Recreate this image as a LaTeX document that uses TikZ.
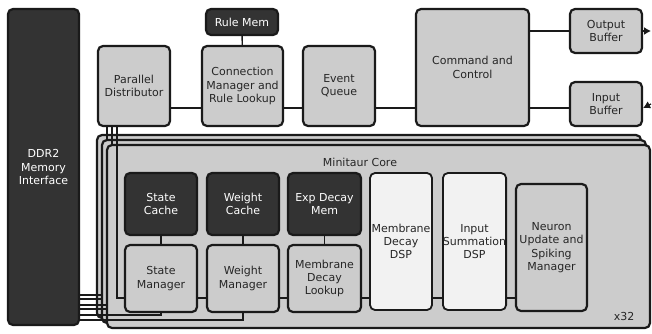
\documentclass[tikz,border=0pt]{standalone}
\usepackage{fontspec}
\setmainfont{DejaVu Sans}
\usepackage{xcolor}
\usepackage{tikz}
\usetikzlibrary{arrows.meta}
\definecolor{boxgray}{HTML}{CCCCCC}
\definecolor{memdark}{HTML}{333333}
\definecolor{dspwhite}{HTML}{F2F2F2}
\definecolor{edge}{HTML}{1A1A1A}

\begin{document}
\begin{tikzpicture}[x=1pt,y=-1pt,
  blk/.style={draw=edge,line width=2.2pt,rounded corners=5pt,fill=boxgray,text=black!85,
    align=center,inner sep=0pt,font=\fontsize{11}{13.3}\selectfont},
  memblk/.style={blk,fill=memdark,text=white},
  dspblk/.style={blk,fill=dspwhite,line width=1.8pt},
  frame/.style={draw=edge,line width=2.2pt,rounded corners=5pt,fill=boxgray},
  wire/.style={draw=edge,line width=1.3pt},
  tip/.style={-{Latex[length=7pt,width=8pt]}},
  lbl/.style={text=black!85,inner sep=0pt,font=\fontsize{11}{13.3}\selectfont}]
\useasboundingbox (0,0) rectangle (652,333);
%Top row
\node[memblk,minimum width=71pt,minimum height=316pt] (ddr) at (43.5,167) {DDR2\\Memory\\Interface};
\node[blk,minimum width=72pt,minimum height=80pt] (pd) at (134,86) {Parallel\\Distributor};
\node[memblk,minimum width=72pt,minimum height=26pt] (rulemem) at (242,22) {Rule Mem};
\node[blk,minimum width=81pt,minimum height=80pt] (cm) at (242.5,86) {Connection\\Manager and\\Rule Lookup};
\node[blk,minimum width=72pt,minimum height=80pt] (eq) at (339,86) {Event\\Queue};
\node[blk,minimum width=113pt,minimum height=117pt] (cc) at (472.5,67.5) {Command and\\Control};
\node[blk,minimum width=72pt,minimum height=44pt] (ob) at (606,31) {Output\\Buffer};
\node[blk,minimum width=72pt,minimum height=44pt] (ib) at (606,104) {Input\\Buffer};
\coordinate (bus) at (0,108);
\coordinate (rim) at (651,0);
\draw[wire] (rulemem) -- (cm);
\draw[wire] (pd.east |- bus) -- (cm.west |- bus);
\draw[wire] (cm.east |- bus) -- (eq.west |- bus);
\draw[wire] (eq.east |- bus) -- (cc.west |- bus);
\draw[wire] (cc.east |- ob) -- (ob);
\draw[wire] (cc.east |- bus) -- (ib.west |- bus);
\draw[wire,tip] (ob.east) -- (ob.east -| rim);
\draw[wire,tip] (ib.east -| rim) -- (ib.east |- bus);
%Back cores
\foreach \k in {0,5} {
  \draw[frame] (97+\k,135+\k) rectangle (641+\k,318+\k);
  \draw[wire] (pd.south -| 107+\k,0) -- (107+\k,200);
  \draw[wire] (ddr.east |- 0,295+2*\k) -- (115+\k,295+2*\k);
  \draw[wire] (ddr.east |- 0,299+2*\k) -- (115+\k,299+2*\k);
}
%Front core
\draw[frame] (107,145) rectangle (650,328);
\node[lbl] (title) at (360,162) {Minitaur Core};
\node[lbl] (count) at (624,316) {x32};
\node[memblk,minimum width=72pt,minimum height=62pt] (sc) at (161,204) {State\\Cache};
\node[memblk,minimum width=72pt,minimum height=62pt] (wc) at (243,204) {Weight\\Cache};
\node[memblk,minimum width=73pt,minimum height=62pt] (edm) at (324.5,204) {Exp Decay\\Mem};
\node[blk,minimum width=72pt,minimum height=67pt] (sm) at (161,278.5) {State\\Manager};
\node[blk,minimum width=72pt,minimum height=67pt] (wm) at (243,278.5) {Weight\\Manager};
\node[blk,minimum width=73pt,minimum height=67pt] (mdl) at (324.5,278.5) {Membrane\\Decay\\Lookup};
\node[dspblk,minimum width=62pt,minimum height=137pt] (mdsp) at (401,241.5) {Membrane\\Decay\\DSP};
\node[dspblk,minimum width=63pt,minimum height=137pt] (isdsp) at (474.5,241.5) {Input\\Summation\\DSP};
\node[blk,minimum width=71pt,minimum height=127pt] (nu) at (551.5,247.5) {Neuron\\Update and\\Spiking\\Manager};
\coordinate (chain) at (0,298);
\coordinate (smw) at (0,315);
\coordinate (wmw) at (0,320);
\foreach \a/\b in {sc/sm,wc/wm,edm/mdl}
  \draw[wire] (\a) -- (\b);
\foreach \a/\b in {sm/wm,wm/mdl,mdl/mdsp,mdsp/isdsp,isdsp/nu}
  \draw[wire] (\a.east |- chain) -- (\b.west |- chain);
\draw[wire] (pd.south -| 117,0) |- (sm.west |- chain);
\draw[wire] (ddr.east |- smw) -| (sm.south);
\draw[wire] (ddr.east |- wmw) -| (wm.south);
\end{tikzpicture}
\end{document}
